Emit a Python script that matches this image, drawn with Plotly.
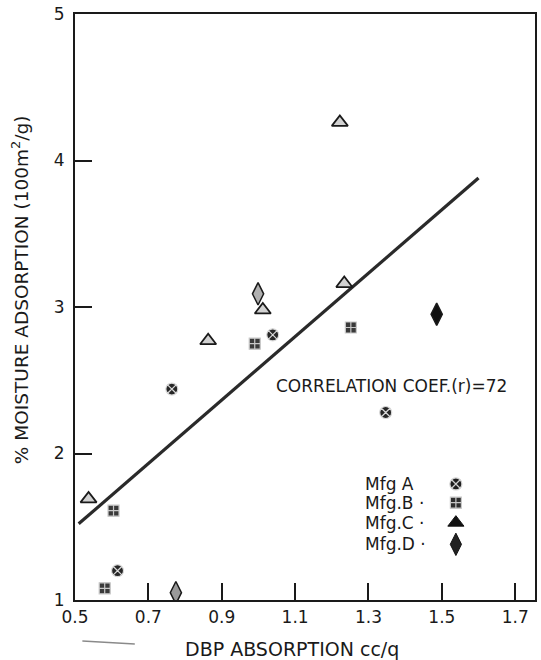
import plotly.graph_objects as go

# DBP absorption (cc/g) vs. % moisture adsorption (100 m^2/g) by manufacturer
mfg_a_x = [0.616, 0.764, 1.039, 1.347]
mfg_a_y = [1.20, 2.44, 2.81, 2.28]

mfg_b_x = [0.581, 0.605, 0.990, 1.252]
mfg_b_y = [1.08, 1.61, 2.75, 2.86]

mfg_c_x = [0.537, 0.863, 1.012, 1.222, 1.234]
mfg_c_y = [1.69, 2.77, 2.98, 4.26, 3.16]

mfg_d_x = [0.775, 0.999, 1.486]
mfg_d_y = [1.05, 3.09, 2.95]

# least-squares line end points
fit_x = [0.510, 1.600]
fit_y = [1.52, 3.88]

x_ticks = [0.5, 0.7, 0.9, 1.1, 1.3, 1.5, 1.7]
x_tick_text = ["0.5", "0.7", "0.9", "1.1", "1.3", "1.5", "1.7"]
y_ticks = [1, 2, 3, 4, 5]
y_tick_text = ["1", "2", "3", "4", "5"]

legend_labels = ["Mfg A", "Mfg.B ·", "Mfg.C ·", "Mfg.D ·"]
corr_label = "CORRELATION COEF.(r)=72"

FONT = "DejaVu Sans"
INK = "#1a1a1a"

fig = go.Figure()

fig.add_trace(go.Scatter(
    x=fit_x, y=fit_y, mode="lines",
    line=dict(color="#2a2a2a", width=3.2),
    showlegend=False, hoverinfo="skip"))

fig.add_trace(go.Scatter(
    x=mfg_a_x, y=mfg_a_y, mode="markers", name="Mfg A",
    marker=dict(symbol="circle-x", size=12, color="#262626",
                line=dict(color="#d9d9d9", width=1.2))))

fig.add_trace(go.Scatter(
    x=mfg_b_x, y=mfg_b_y, mode="markers", name="Mfg.B",
    marker=dict(symbol="square-cross", size=11, color="#3a3a3a",
                line=dict(color="#c8c8c8", width=1.2))))

fig.add_trace(go.Scatter(
    x=mfg_c_x, y=mfg_c_y, mode="markers", name="Mfg.C",
    marker=dict(symbol="triangle-up", size=14, color="#d2d2d2",
                line=dict(color=INK, width=1.8))))

d_fill = ["#9a9a9a", "#b0b0b0", "#111111"]
fig.add_trace(go.Scatter(
    x=mfg_d_x, y=mfg_d_y, mode="markers", name="Mfg.D",
    marker=dict(symbol="diamond-tall", size=16, color=d_fill,
                line=dict(color=INK, width=1.5))))

# legend keys, drawn on an overlay axis in 0..1 units
key_x = 0.828
key_y = [0.198, 0.166, 0.132, 0.095]
key_style = [
    dict(symbol="circle-x", size=12, color="#1e1e1e", line=dict(color="#d0d0d0", width=1.2)),
    dict(symbol="square-cross", size=11, color="#2e2e2e", line=dict(color="#c8c8c8", width=1.2)),
    dict(symbol="triangle-up", size=14, color="#111111", line=dict(color="#111111", width=1)),
    dict(symbol="diamond-tall", size=16, color="#222222", line=dict(color="#111111", width=1)),
]
for ky, st in zip(key_y, key_style):
    fig.add_trace(go.Scatter(
        x=[key_x], y=[ky], xaxis="x2", yaxis="y2", mode="markers",
        marker=st, showlegend=False, hoverinfo="skip"))

for lab, ky in zip(legend_labels, key_y):
    fig.add_annotation(
        x=0.626, y=ky, xref="paper", yref="paper", text=lab,
        showarrow=False, xanchor="left", yanchor="middle",
        font=dict(family=FONT, size=17, color=INK))

fig.add_annotation(
    x=0.688, y=0.366, xref="paper", yref="paper", text=corr_label,
    showarrow=False, xanchor="center", yanchor="middle",
    font=dict(family=FONT, size=17, color=INK))

# axis titles
fig.add_annotation(
    x=-0.118, y=0.53, xref="paper", yref="paper",
    text="% MOISTURE ADSORPTION (100m<sup>2</sup>/g)", textangle=-90,
    showarrow=False, xanchor="center", yanchor="middle",
    font=dict(family=FONT, size=18.5, color=INK))
fig.add_annotation(
    x=0.472, y=-0.083, xref="paper", yref="paper",
    text="DBP ABSORPTION cc/q",
    showarrow=False, xanchor="center", yanchor="middle",
    font=dict(family=FONT, size=19, color=INK))

# small stray pen stroke below the axis
fig.add_shape(type="line", xref="paper", yref="paper",
              x0=0.016, y0=-0.070, x1=0.13, y1=-0.075,
              line=dict(color="#8a8a8a", width=1.4))

fig.update_layout(
    width=541, height=660,
    margin=dict(l=75, r=4, t=13, b=60),
    paper_bgcolor="white", plot_bgcolor="white",
    showlegend=False,
    xaxis=dict(
        range=[0.5, 1.754], tickmode="array", tickvals=x_ticks, ticktext=x_tick_text,
        ticks="inside", ticklen=17, tickwidth=1.6, tickcolor=INK,
        showline=True, linecolor=INK, linewidth=2, mirror=True,
        showgrid=False, zeroline=False, ticklabelstandoff=1,
        tickfont=dict(family=FONT, size=17, color=INK)),
    yaxis=dict(
        range=[1, 5], tickmode="array", tickvals=y_ticks, ticktext=y_tick_text,
        ticks="inside", ticklen=17, tickwidth=1.6, tickcolor=INK,
        showline=True, linecolor=INK, linewidth=2, mirror=True,
        showgrid=False, zeroline=False, ticklabelstandoff=5,
        tickfont=dict(family=FONT, size=17, color=INK)),
    xaxis2=dict(range=[0, 1], overlaying="x", visible=False, fixedrange=True),
    yaxis2=dict(range=[0, 1], overlaying="y", visible=False, fixedrange=True),
)

fig.write_html("out.html")
